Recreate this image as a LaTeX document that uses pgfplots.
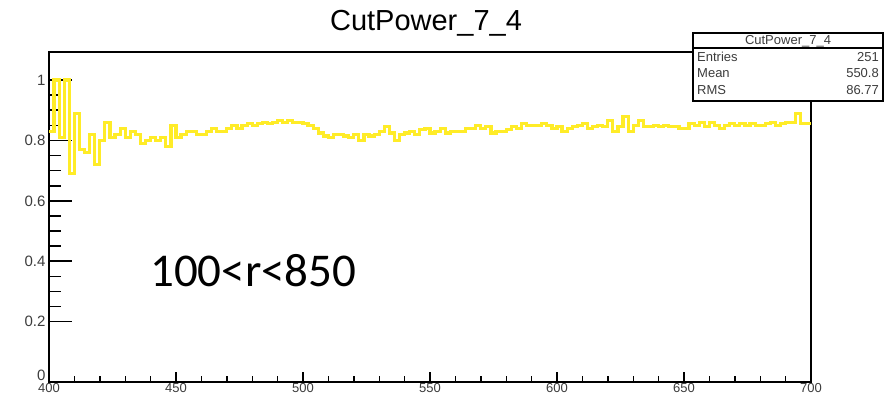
\documentclass[border=0pt]{standalone}
\usepackage{pgfplots}
\pgfplotsset{compat=1.18}
\usepackage{pgfplotstable}
\usepackage{fontspec}
\setmainfont{Liberation Sans}
\newfontfamily\calibri{Carlito}
\definecolor{rootyellow}{RGB}{255,236,40}
\definecolor{statgray}{RGB}{60,60,60}

\pgfplotstableread{
x y
400 0.83
402 1.00
404 0.81
406 1.00
408 0.69
410 0.89
412 0.77
414 0.76
416 0.82
418 0.72
420 0.80
422 0.86
424 0.81
426 0.82
428 0.84
430 0.81
432 0.83
434 0.82
436 0.79
438 0.80
440 0.81
442 0.80
444 0.81
446 0.78
448 0.85
450 0.81
452 0.82
454 0.83
456 0.83
458 0.82
460 0.82
462 0.83
464 0.84
466 0.83
468 0.83
470 0.84
472 0.85
474 0.84
476 0.85
478 0.855
480 0.85
482 0.855
484 0.86
486 0.855
488 0.86
490 0.865
492 0.86
494 0.865
496 0.86
498 0.86
500 0.855
502 0.85
504 0.84
506 0.825
508 0.815
510 0.81
512 0.82
514 0.82
516 0.815
518 0.81
520 0.82
522 0.80
524 0.82
526 0.815
528 0.82
530 0.83
532 0.845
534 0.825
536 0.80
538 0.82
540 0.825
542 0.83
544 0.82
546 0.835
548 0.84
550 0.825
552 0.83
554 0.84
556 0.825
558 0.83
560 0.83
562 0.83
564 0.84
566 0.84
568 0.85
570 0.84
572 0.845
574 0.825
576 0.83
578 0.83
580 0.835
582 0.845
584 0.84
586 0.855
588 0.85
590 0.85
592 0.85
594 0.855
596 0.85
598 0.84
600 0.845
602 0.83
604 0.84
606 0.845
608 0.85
610 0.855
612 0.84
614 0.845
616 0.85
618 0.845
620 0.865
622 0.83
624 0.845
626 0.88
628 0.83
630 0.85
632 0.865
634 0.845
636 0.845
638 0.85
640 0.845
642 0.85
644 0.845
646 0.845
648 0.84
650 0.84
652 0.855
654 0.85
656 0.86
658 0.845
660 0.86
662 0.85
664 0.84
666 0.85
668 0.855
670 0.85
672 0.855
674 0.85
676 0.855
678 0.85
680 0.85
682 0.855
684 0.86
686 0.85
688 0.855
690 0.86
692 0.86
694 0.89
696 0.855
698 0.855
700 0.855
}\datatable

\begin{document}
\begin{tikzpicture}[x=1pt,y=1pt]
% x ticks only
\begin{axis}[at={(49pt,14pt)}, anchor=south west, scale only axis,
  width=762pt, height=330pt, xmin=400, xmax=700, ymin=0, ymax=1.093,
  axis line style={draw=none}, ytick=\empty,
  xtick={400,450,...,700}, xticklabels={400,450,500,550,600,650,700},
  minor x tick num=4, xtick pos=bottom, tick align=inside,
  major tick length=10pt, minor tick length=6pt,
  tick style={line width=1.4pt, black},
  xticklabel style={font=\fontsize{13}{13}\selectfont, inner sep=1pt, yshift=0pt, text=statgray}]
\end{axis}
\begin{axis}[at={(49pt,14pt)}, anchor=south west, scale only axis,
  width=762pt, height=330pt, xmin=400, xmax=700, ymin=0, ymax=1.093,
  axis line style={line width=1.8pt}, xtick=\empty,
  ytick={0.2,0.4,0.6,0.8,1}, yticklabels={0.2,0.4,0.6,0.8,1},
  extra y ticks={0}, extra y tick labels={0},
  extra y tick style={yticklabel style={yshift=7pt}},
  minor y tick num=3, ytick pos=left, tick align=inside,
  major tick length=23pt, minor tick length=12pt,
  tick style={line width=1.6pt, black},
  yticklabel style={font=\fontsize{15}{15}\selectfont, text=statgray}]
\addplot[const plot mark left, rootyellow, line width=3.2pt] table[x=x,y=y] {\datatable};
\end{axis}
% title
\node[anchor=base, inner sep=0pt, font=\fontsize{29}{29}\selectfont] at (426,365) {CutPower\_7\_4};
% stats box
\draw[fill=white, line width=1.3pt] (693,295) rectangle (883,363);
\draw[line width=1.3pt] (693,348) -- (883,348);
\begin{scope}[every node/.style={inner sep=0pt, font=\fontsize{13}{13}\selectfont, text=statgray}]
\node[anchor=base] at (788,351) {CutPower\_7\_4};
\node[anchor=base west] at (697,334) {Entries};
\node[anchor=base east] at (879,334) {251};
\node[anchor=base west] at (697,318) {Mean};
\node[anchor=base east] at (879,318) {550.8};
\node[anchor=base west] at (697,301) {RMS};
\node[anchor=base east] at (879,301) {86.77};
\end{scope}
% annotation
\node[anchor=base west, inner sep=0pt, font=\calibri\fontsize{47}{47}\selectfont] at (150,109) {100<r<850};
\pgfresetboundingbox
\useasboundingbox (0,0) rectangle (885,396);
\end{tikzpicture}
\end{document}
